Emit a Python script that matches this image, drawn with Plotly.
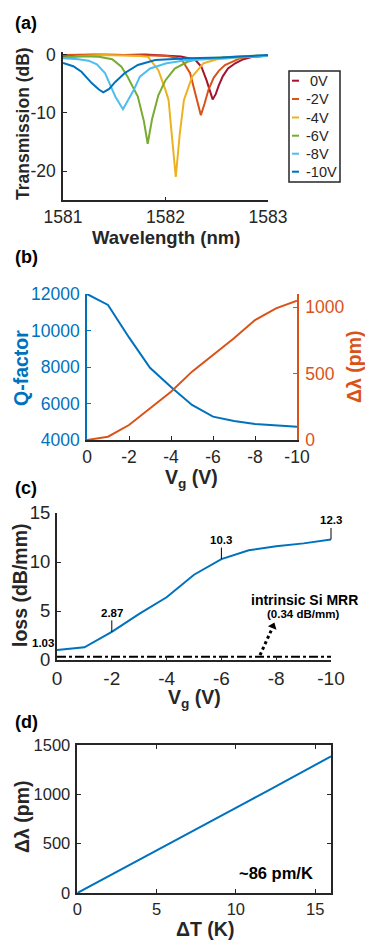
import plotly.graph_objects as go

FONT = "Liberation Sans, Arial, sans-serif"
DARK = "#262626"
BLUE = "#0072BD"
ORANGE = "#D95319"

# ---------------- (a) transmission spectra ----------------
voltage_labels = ["\u00a00V", "-2V", "-4V", "-6V", "-8V", "-10V"]
spectrum_colors = ["#A2142F", "#D95319", "#EDB120", "#77AC30", "#4DBEEE", "#0072BD"]

wl_0V = [1581.0, 1581.2, 1581.4, 1581.6, 1581.8, 1582.0, 1582.15, 1582.29, 1582.35, 1582.40,
         1582.44, 1582.46, 1582.49, 1582.52, 1582.56, 1582.61, 1582.68, 1582.76, 1582.85, 1582.95, 1583.0]
tr_0V = [-0.3, -0.1, -0.05, -0.1, 0.0, -0.2, -0.35, -0.9, -2.1, -4.4,
         -6.6, -7.7, -6.8, -5.3, -3.7, -2.4, -1.5, -0.8, -0.4, -0.25, -0.2]

wl_2V = [1581.0, 1581.3, 1581.6, 1581.9, 1582.0, 1582.10, 1582.16, 1582.24, 1582.30, 1582.345,
         1582.38, 1582.42, 1582.47, 1582.52, 1582.58, 1582.65, 1582.72, 1582.8, 1582.9, 1583.0]
tr_2V = [-0.1, 0.0, -0.1, -0.1, -0.2, -0.5, -0.9, -3.2, -7.5, -10.4,
         -8.5, -6.0, -4.0, -2.8, -1.8, -1.2, -0.7, -0.4, -0.3, -0.2]

wl_4V = [1581.0, 1581.2, 1581.4, 1581.6, 1581.75, 1581.83, 1581.93, 1582.0, 1582.03, 1582.06,
         1582.10, 1582.14, 1582.18, 1582.26, 1582.37, 1582.5, 1582.7, 1582.85, 1583.0]
tr_4V = [-0.6, -0.2, -0.1, -0.15, -0.25, -0.4, -2.7, -6.1, -7.8, -13.5,
         -21.0, -13.5, -7.8, -3.8, -1.5, -0.8, -0.5, -0.3, -0.2]

wl_6V = [1581.0, 1581.2, 1581.35, 1581.48, 1581.57, 1581.63, 1581.73, 1581.79, 1581.826, 1581.87,
         1581.93, 1582.0, 1582.09, 1582.22, 1582.35, 1582.6, 1582.8, 1583.0]
tr_6V = [-0.5, -0.3, -0.4, -0.8, -2.1, -3.8, -7.2, -11.5, -15.3, -11.0,
         -7.0, -4.4, -2.4, -1.2, -0.7, -0.4, -0.25, -0.15]

wl_8V = [1581.0, 1581.15, 1581.25, 1581.33, 1581.41, 1581.51, 1581.585, 1581.64, 1581.69, 1581.75,
         1581.85, 1582.01, 1582.2, 1582.4, 1582.6, 1582.8, 1583.0]
tr_8V = [-0.65, -0.8, -1.05, -1.7, -3.2, -7.2, -9.4, -7.8, -6.1, -3.8,
         -2.4, -1.5, -1.0, -0.8, -0.6, -0.35, -0.2]

wl_10V = [1581.0, 1581.1, 1581.18, 1581.28, 1581.35, 1581.393, 1581.45, 1581.51, 1581.6, 1581.73,
          1581.9, 1582.05, 1582.22, 1582.55, 1582.75, 1583.0]
tr_10V = [-1.44, -2.0, -2.95, -4.9, -6.0, -6.5, -5.9, -4.7, -3.2, -1.8,
          -0.95, -0.8, -0.65, -0.5, -0.3, -0.1]

spectra_wl = [wl_0V, wl_2V, wl_4V, wl_6V, wl_8V, wl_10V]
spectra_tr = [tr_0V, tr_2V, tr_4V, tr_6V, tr_8V, tr_10V]

wl_ticks = [1581, 1582, 1583]
tr_ticks = [-20, -10, 0]

# ---------------- (b) Q-factor and shift vs gate voltage ----------------
vg_b = [0, -1, -2, -3, -4, -5, -6, -7, -8, -9, -10]
q_factor = [12000, 11400, 9620, 7960, 6900, 5920, 5280, 5040, 4880, 4800, 4730]
shift_pm = [0, 25, 113, 239, 364, 515, 641, 766, 904, 992, 1050]
vg_ticks = [0, -2, -4, -6, -8, -10]
q_ticks = [4000, 6000, 8000, 10000, 12000]
shift_ticks = [0, 500, 1000]

# ---------------- (c) loss vs gate voltage ----------------
vg_c = [0, -1, -2, -3, -4, -5, -6, -7, -8, -9, -10]
loss_db_mm = [1.03, 1.3, 2.87, 4.7, 6.4, 8.7, 10.3, 11.2, 11.6, 11.9, 12.3]
intrinsic_vg = [0, -10]
intrinsic_loss = [0.34, 0.34]
label_vg = [-2, -6, -10]
label_loss = [2.87, 10.3, 12.3]
label_text = ["2.87", "10.3", "12.3"]
arrow_vg = [-7.41, -7.84]
arrow_loss = [0.5, 3.15]
arrow_head_vg = [-7.88]
arrow_head_loss = [3.45]
loss_ticks = [0, 5, 10, 15]

# ---------------- (d) thermal shift ----------------
delta_T = [0, 1, 2, 3, 4, 5, 6, 7, 8, 9, 10, 11, 12, 13, 14, 15, 16]
thermal_shift = [0, 87, 175, 262, 347, 432, 515, 605, 692, 778, 865, 950, 1035, 1122, 1210, 1298, 1385]
dT_ticks = [0, 5, 10, 15]
thermal_ticks = [0, 500, 1000, 1500]


def lab(v):
    return str(v).replace("\u2212", "-")


fig = go.Figure()

for wl, tr, name, col in zip(spectra_wl, spectra_tr, voltage_labels, spectrum_colors):
    fig.add_trace(go.Scatter(x=wl, y=tr, mode="lines", name=name, showlegend=False,
                             line=dict(color=col, width=2), xaxis="x", yaxis="y"))

fig.add_trace(go.Scatter(x=vg_b, y=q_factor, mode="lines", showlegend=False,
                         line=dict(color=BLUE, width=2), xaxis="x2", yaxis="y2"))
fig.add_trace(go.Scatter(x=vg_b, y=shift_pm, mode="lines", showlegend=False,
                         line=dict(color=ORANGE, width=2), xaxis="x2", yaxis="y3"))

fig.add_trace(go.Scatter(x=intrinsic_vg, y=intrinsic_loss, mode="lines", showlegend=False,
                         line=dict(color="black", width=2, dash="dashdot"), xaxis="x3", yaxis="y4"))
fig.add_trace(go.Scatter(x=vg_c, y=loss_db_mm, mode="lines", showlegend=False,
                         line=dict(color=BLUE, width=2), xaxis="x3", yaxis="y4"))
fig.add_trace(go.Scatter(x=arrow_vg, y=arrow_loss, mode="lines", showlegend=False,
                         line=dict(color="black", width=3, dash="dot"), xaxis="x3", yaxis="y4"))
fig.add_trace(go.Scatter(x=arrow_head_vg, y=arrow_head_loss, mode="markers", showlegend=False,
                         marker=dict(symbol="triangle-up", size=8, color="black", angle=22),
                         xaxis="x3", yaxis="y4"))

fig.add_trace(go.Scatter(x=delta_T, y=thermal_shift, mode="lines", showlegend=False,
                         line=dict(color=BLUE, width=2), xaxis="x4", yaxis="y5"))


def tfont(size, color=DARK):
    return dict(family=FONT, size=size, color=color)


def ax(domain, rng, tickvals, anchor, tsize, color=DARK, side=None, mirror=False,
       overlaying=None, lw=1.5, standoff=3):
    d = dict(domain=domain, range=rng, tickvals=tickvals, ticktext=[lab(v) for v in tickvals],
             anchor=anchor, showgrid=False, zeroline=False, showline=True, linecolor=color,
             linewidth=lw, ticks="inside", ticklen=4, tickwidth=1.2, tickcolor=color,
             tickfont=tfont(tsize, color), mirror=mirror, ticklabelstandoff=standoff,
             automargin=False)
    if side:
        d["side"] = side
    if overlaying:
        d["overlaying"] = overlaying
    return d


W, H = 365, 940


def xd(a, b):
    return [a / W, b / W]


def yd(top, bottom):
    return [1 - bottom / H, 1 - top / H]


layout = dict(
    width=W, height=H, margin=dict(l=0, r=0, t=0, b=0, pad=0),
    paper_bgcolor="white", plot_bgcolor="white", showlegend=False,
    font=dict(family=FONT, color=DARK),
    xaxis=ax(xd(63, 268), [1581, 1583], wl_ticks, "y", 17.5, standoff=0),
    yaxis=ax(yd(51.6, 200.3), [-25, 0.5], tr_ticks, "x", 17.5, standoff=2),
    xaxis2=ax(xd(87, 297), [0, -10], vg_ticks, "y2", 17.5, standoff=0),
    yaxis2=ax(yd(294, 440), [4000, 12000], q_ticks, "x2", 17.5, color=BLUE, standoff=2),
    yaxis3=ax(yd(294, 440), [0, 1100], shift_ticks, "x2", 17.5, color=ORANGE,
              side="right", overlaying="y2"),
    xaxis3=ax(xd(57, 331), [0, -10], vg_ticks, "y4", 19, lw=2, standoff=0),
    yaxis4=ax(yd(513, 660), [0, 15], loss_ticks, "x3", 18.5, lw=2, standoff=1),
    xaxis4=ax(xd(77.3, 331), [0, 16], dT_ticks, "y5", 16.5, mirror="ticks", standoff=0),
    yaxis5=ax(yd(745, 893), [0, 1500], thermal_ticks, "x4", 16.5, mirror="ticks", standoff=2),
)
fig.update_layout(**layout)

annotations = []


def paper_text(text, xpx, ypx, size, color="black", angle=0, xanchor="center"):
    annotations.append(dict(text=text, x=xpx / W, y=1 - ypx / H, xref="paper", yref="paper",
                            xanchor=xanchor, yanchor="middle", showarrow=False, textangle=angle,
                            font=tfont(size, color)))


# axis titles
paper_text("<b>Transmission (dB)</b>", 23, 124, 17.5, DARK, -90)
paper_text("<b>Wavelength (nm)</b>", 166, 237, 18.5, DARK)
paper_text("<b>Q-factor</b>", 21, 368, 19.5, BLUE, -90)
paper_text("<b>Δλ (pm)</b>", 354, 367, 19.5, ORANGE, -90)
paper_text("<b>V<sub>g</sub> (V)</b>", 192, 478, 19.5, DARK)
paper_text("<b>loss (dB/mm)</b>", 20, 585, 19.5, DARK, -90)
paper_text("<b>V<sub>g</sub> (V)</b>", 194, 698, 19.5, DARK)
paper_text("<b>Δλ (pm)</b>", 22, 817, 19.5, DARK, -90)
paper_text("<b>ΔT (K)</b>", 205, 929, 19.5, DARK)

# panel labels
for txt, ypx in [("(a)", 23), ("(b)", 257), ("(c)", 488), ("(d)", 722)]:
    paper_text(f"<b>{txt}</b>", 13, ypx, 18, "black", xanchor="left")

# legend of (a), drawn as a boxed key
legend_rows = [80.7, 99, 117.5, 135.7, 153.7, 171.7]
shapes = [dict(type="rect", xref="paper", yref="paper", x0=289 / W, x1=340 / W,
               y0=1 - 182 / H, y1=1 - 71 / H, line=dict(color=DARK, width=1.5),
               fillcolor="white", layer="above")]
for ypx, name, col in zip(legend_rows, voltage_labels, spectrum_colors):
    shapes.append(dict(type="line", xref="paper", yref="paper", x0=292 / W, x1=299 / W,
                       y0=1 - ypx / H, y1=1 - ypx / H, line=dict(color=col, width=2)))
    paper_text(name, 304, ypx, 14.5, DARK, xanchor="left")

# (c) data labels
annotations.append(dict(text="<b>1.03</b>", x=0, y=loss_db_mm[0], xref="x3", yref="y4",
                        xanchor="right", yanchor="bottom", xshift=-1, yshift=-1, showarrow=False,
                        font=tfont(11.5, "black")))
for vx, vy, t in zip(label_vg, label_loss, label_text):
    annotations.append(dict(text=f"<b>{t}</b>", x=vx, y=vy, xref="x3", yref="y4", showarrow=True,
                            arrowhead=0, arrowwidth=1, arrowcolor="black", ax=0, ay=-19,
                            font=tfont(11.5, "black")))
paper_text("<b>intrinsic Si MRR</b>", 304, 600, 14)
paper_text("<b>(0.34 dB/mm)</b>", 303, 614, 11.5)
paper_text("<b>~86 pm/K</b>", 276, 873, 16.5)

fig.update_layout(annotations=annotations, shapes=shapes)
fig.write_html("out.html",
               post_script="document.body.style.margin='0';document.body.style.padding='0';")
